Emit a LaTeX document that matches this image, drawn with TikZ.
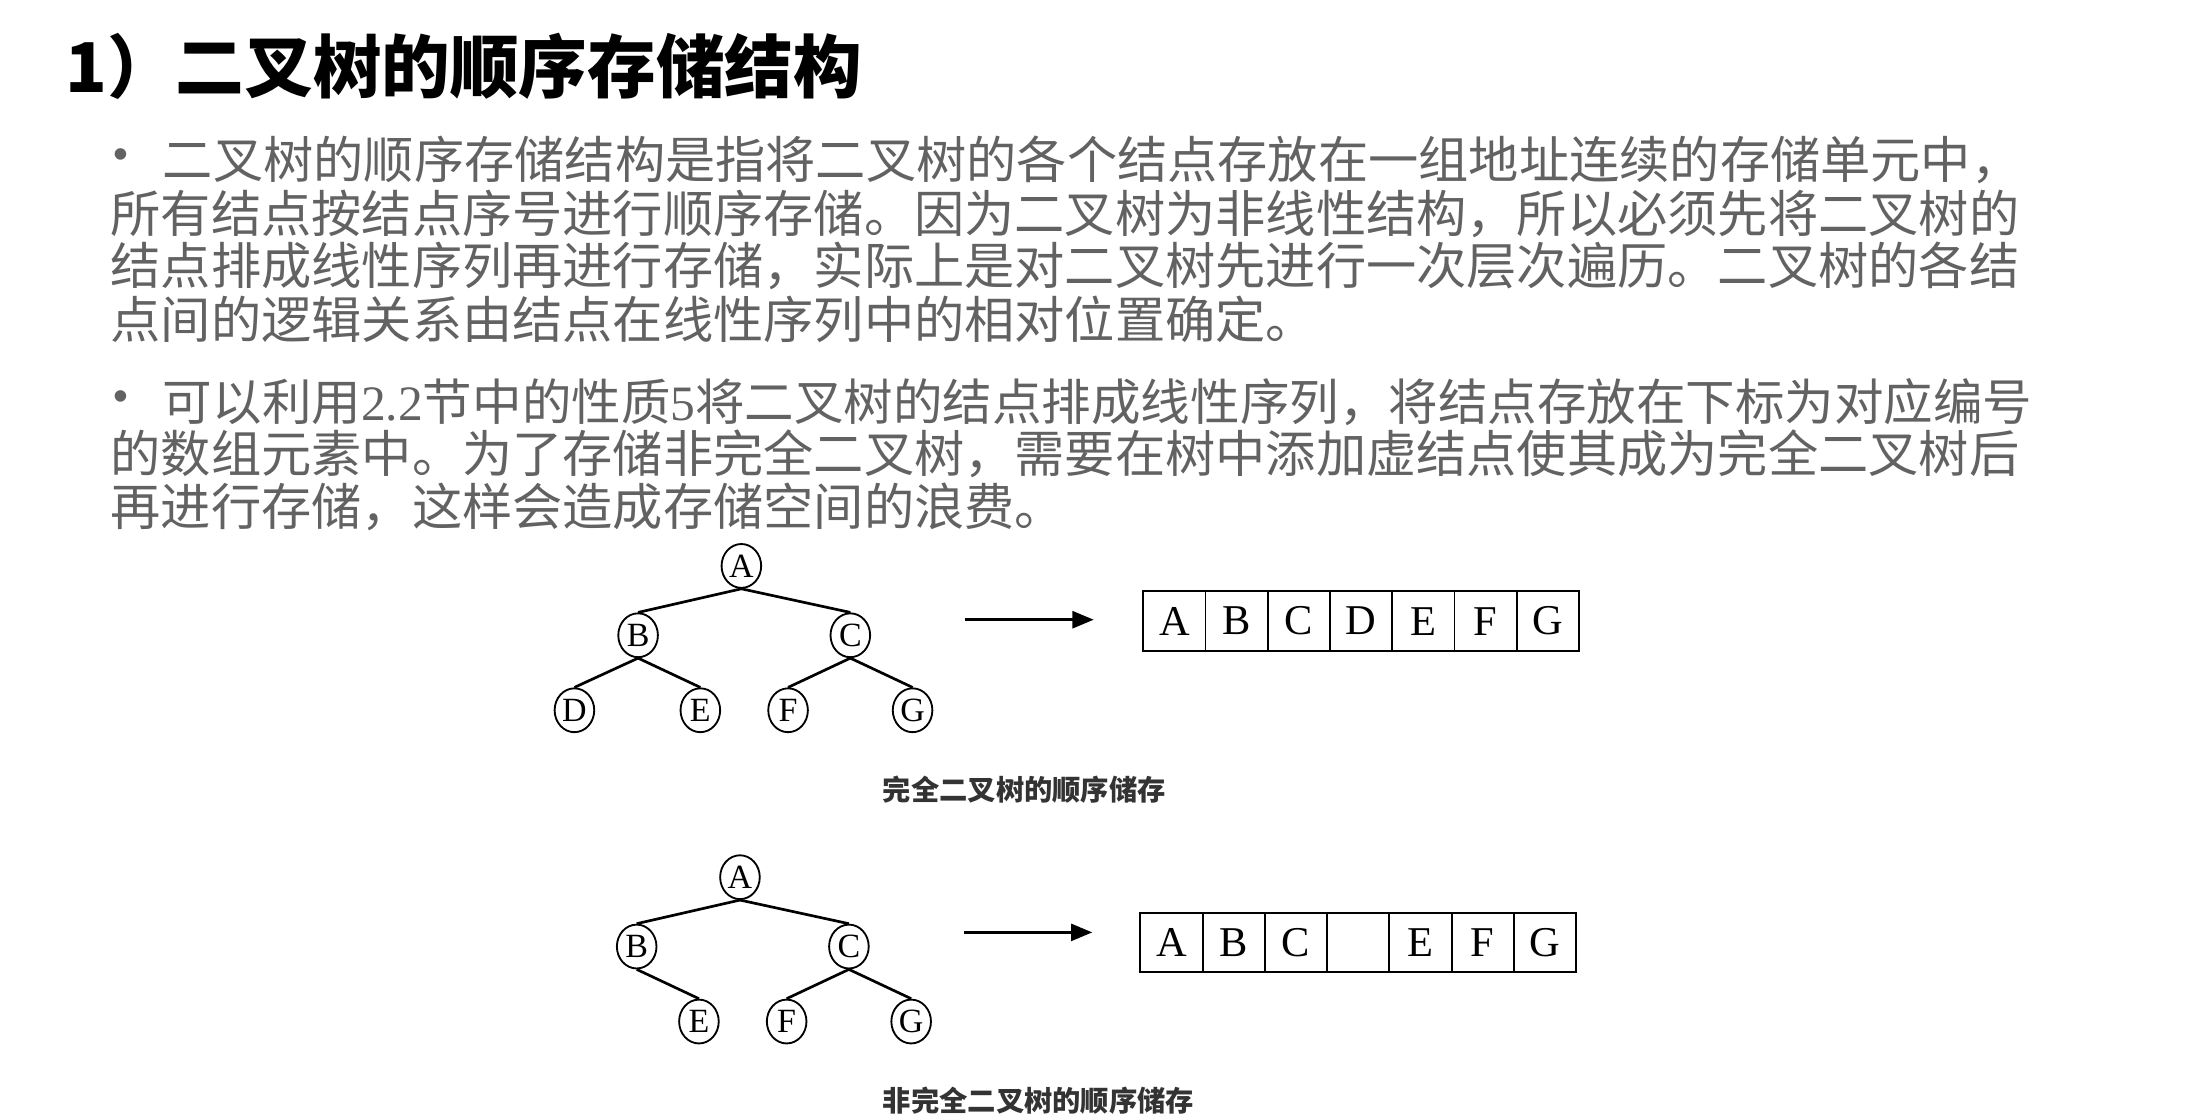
\documentclass[tikz,border=0pt]{standalone}
\usepackage{fontspec}
\setmainfont{Liberation Serif}
\newfontfamily\cjk{Noto Sans CJK SC}
\newfontfamily\bulletfont{Liberation Sans}
\usetikzlibrary{arrows.meta,shapes.geometric}
\definecolor{bodygray}{HTML}{626262}
\tikzset{
  body/.style={anchor=west,inner sep=0pt,text=bodygray,font=\fontsize{35.5}{40}\selectfont\cjk},
  bul/.style={anchor=west,inner sep=0pt,text=bodygray,font=\fontsize{30}{30}\selectfont\bulletfont},
  tn/.style={draw,line width=1.3pt,ellipse,minimum width=28pt,minimum height=31pt,inner sep=0pt,font=\fontsize{24}{24}\selectfont},
  cell/.style={draw,line width=1.3pt,minimum width=44pt,minimum height=42pt,inner sep=0pt,outer sep=0pt,font=\fontsize{30}{30}\selectfont},
  edge/.style={line width=1.9pt},
  arr/.style={line width=1.9pt,-{Triangle[length=15pt,width=12pt]}},
  captxt/.style={font=\fontsize{20}{20}\selectfont\cjk\bfseries,text=black!80}
}
\begin{document}
\begin{tikzpicture}[x=1pt,y=-1pt]
\useasboundingbox (0,0) rectangle (1550,788);
\node[anchor=west,inner sep=0pt,font=\fontsize{48.5}{50}\selectfont\cjk\bfseries] (title) at (46,47) {1）二叉树的顺序存储结构};
\node[bul] (b1) at (80,112) {•};
\node[body] (l1) at (115,113) {二叉树的顺序存储结构是指将二叉树的各个结点存放在一组地址连续的存储单元中，};
\node[body] (l2) at (78,151) {所有结点按结点序号进行顺序存储。因为二叉树为非线性结构，所以必须先将二叉树的};
\node[body] (l3) at (78,188) {结点排成线性序列再进行存储，实际上是对二叉树先进行一次层次遍历。二叉树的各结};
\node[body] (l4) at (78,226) {点间的逻辑关系由结点在线性序列中的相对位置确定。};
\node[bul] (b2) at (80,283) {•};
\node[body,font=\fontsize{35}{40}\selectfont\cjk] (l5) at (115,284) {可以利用{\fontspec{Liberation Serif}2.2}节中的性质{\fontspec{Liberation Serif}5}将二叉树的结点排成线性序列，将结点存放在下标为对应编号};
\node[body] (l6) at (78,321) {的数组元素中。为了存储非完全二叉树，需要在树中添加虚结点使其成为完全二叉树后};
\node[body] (l7) at (78,358) {再进行存储，这样会造成存储空间的浪费。};
% tree 1
\node[tn] (A) at (524,400) {A};
\node[tn] (B) at (451,449) {B};
\node[tn] (C) at (601,449) {C};
\node[tn] (D) at (406,502) {D};
\node[tn] (E) at (495,502) {E};
\node[tn] (F) at (557,502) {F};
\node[tn] (G) at (645,502) {G};
\draw[edge] (A.south) -- (B.north);
\draw[edge] (A.south) -- (C.north);
\draw[edge] (B.south) -- (D.north);
\draw[edge] (B.south) -- (E.north);
\draw[edge] (C.south) -- (F.north);
\draw[edge] (C.south) -- (G.north);
\coordinate (s1) at (682,438);
\coordinate (e1) at (773,438);
\draw[arr] (s1) -- (e1);
\foreach \t [count=\i] in {A,B,C,D,E,F,G}
  \node[cell] (p\i) at ({808+22+44*(\i-1)},439) {\t};
\node[captxt] (c1) at (724,558) {完全二叉树的顺序储存};
% tree 2
\node[tn] (A2) at (523,620) {A};
\node[tn] (B2) at (450,669) {B};
\node[tn] (C2) at (600,669) {C};
\node[tn] (E2) at (494,722) {E};
\node[tn] (F2) at (556,722) {F};
\node[tn] (G2) at (644,722) {G};
\draw[edge] (A2.south) -- (B2.north);
\draw[edge] (A2.south) -- (C2.north);
\draw[edge] (B2.south) -- (E2.north);
\draw[edge] (C2.south) -- (F2.north);
\draw[edge] (C2.south) -- (G2.north);
\coordinate (s2) at (681,659);
\coordinate (e2) at (772,659);
\draw[arr] (s2) -- (e2);
\foreach \t [count=\i] in {A,B,C,{},E,F,G}
  \node[cell] (q\i) at ({806+22+44*(\i-1)},666) {\t};
\node[captxt] (c2) at (734,778) {非完全二叉树的顺序储存};
\end{tikzpicture}
\end{document}
